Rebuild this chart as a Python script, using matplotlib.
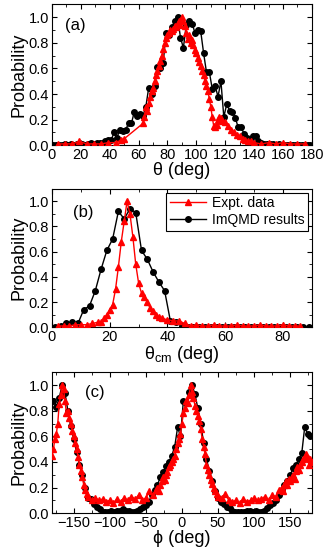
import numpy as np, matplotlib
matplotlib.use("Agg")
import matplotlib.pyplot as plt
from matplotlib.ticker import MultipleLocator

plt.rcParams.update({
    "font.family":["Liberation Sans","DejaVu Sans"],"font.size":10,
    "mathtext.fontset":"custom","mathtext.rm":"Liberation Sans",
    "xtick.direction":"in","ytick.direction":"in",
    "xtick.top":True,"ytick.right":True,
    "xtick.major.size":3.5,"ytick.major.size":3.5,
    "xtick.minor.size":2,"ytick.minor.size":2,
    "xtick.minor.visible":True,"ytick.minor.visible":True,
    "axes.linewidth":0.8,
})

# ── panel (a): theta ─────────────────────────────────
theta_sim_x=np.arange(1,180,2)
theta_sim_y=[0.0,0.0,0.0,0.0,0.01,0.0,0.01,0.0,0.01,0.01,
    0.01,0.0,0.01,0.02,0.01,0.02,0.02,0.02,0.03,0.04,
    0.04,0.10,0.06,0.12,0.11,0.12,0.17,0.17,0.26,0.23,
    0.24,0.23,0.30,0.45,0.40,0.46,0.61,0.60,0.64,0.88,
    0.86,0.92,0.97,1.00,0.84,0.76,0.94,0.97,0.95,0.88,
    0.90,0.89,0.72,0.57,0.57,0.44,0.46,0.38,0.50,0.22,
    0.32,0.27,0.26,0.21,0.14,0.14,0.09,0.06,0.05,0.07,
    0.07,0.03,0.02,0.01,0.01,0.01,0.01,0.0,0.01,0.0,
    0.0,0.0,0.0,0.0,0.0,0.0,0.0,0.0,0.0,0.0]
theta_exp_x=[4,9,14,19,24,29,34,39,44,48,50,63,
    64,65,66,67,68,69,70,71,72,73,74,75,76,77,78,79,80,81,82,83,84,85,86,87,88,89,
    90,91,92,93,94,95,96,97,98,99,100,101,102,103,104,105,106,107,108,109,110,111,
    112,113,114,115,116,117,118,120,122,124,126,128,130,132,134,136,138,140,
    145,150,155,160,165,170,175]
theta_exp_y=[0.01,0.01,0.01,0.03,0.01,0.01,0.01,0.02,0.02,0.04,0.05,0.17,
    0.22,0.30,0.27,0.33,0.38,0.42,0.45,0.50,0.55,0.58,0.62,0.66,0.70,0.75,0.80,0.84,
    0.86,0.88,0.90,0.89,0.91,0.93,0.92,0.95,0.97,0.94,
    1.00,0.97,0.93,0.88,0.83,0.86,0.80,0.82,0.78,0.74,0.72,0.68,0.65,0.62,0.58,0.55,
    0.50,0.46,0.42,0.36,0.30,0.22,
    0.15,0.14,0.16,0.20,0.22,0.21,0.19,0.18,0.15,0.12,0.10,0.08,0.07,0.05,0.04,0.03,
    0.03,0.02,0.01,0.02,0.01,0.02,0.01,0.01,0.01]

# ── panel (b): theta_cm ──────────────────────────────
thcm_sim_x=np.arange(1,90,2)
thcm_sim_y=[0.0,0.01,0.03,0.04,0.03,0.14,0.17,0.29,0.46,0.61,
    0.70,0.92,0.86,0.94,0.91,0.61,0.54,0.44,0.36,0.29,
    0.05,0.04,0.01,0.0,0.0,0.0,0.0,0.0,0.0,0.0,
    0.0,0.0,0.0,0.0,0.0,0.0,0.0,0.0,0.0,0.0,
    0.0,0.0,0.0,0.0,0.0]
thcm_exp_x=[2,4,6,8,10,12,14,16,17,18,19,20,21,22,23,24,25,26,27,28,29,30,31,32,33,
    34,35,36,37,38,40,42,44,46,48,50,52,54,56,58,60,62,64,66,68,70,72,74,76,78,
    80,82,84,86]
thcm_exp_y=[0.01,0.01,0.01,0.02,0.02,0.02,0.03,0.04,0.04,0.07,0.10,0.14,0.18,0.30,
    0.48,0.68,0.84,1.00,0.90,0.72,0.50,0.35,0.27,0.24,0.20,0.15,0.13,0.10,0.08,0.07,
    0.06,0.05,0.05,0.03,0.01,0.02,0.01,0.01,0.02,0.01,0.01,0.01,0.02,0.01,0.01,
    0.01,0.02,0.01,0.01,0.01,0.02,0.01,0.01,0.01]

# ── panel (c): phi ───────────────────────────────────
phi_sim_x=np.arange(-178,180,4)
phi_sim_y=[0.88,0.83,0.90,1.00,0.94,0.80,0.68,0.58,0.48,0.38,
    0.30,0.20,0.12,0.11,0.07,0.05,0.03,0.01,0.01,0.01,
    0.02,0.01,0.02,0.02,0.03,0.02,0.02,0.01,0.01,0.02,
    0.03,0.05,0.06,0.09,0.14,0.18,0.22,0.28,0.32,0.37,
    0.40,0.45,0.52,0.67,0.60,0.88,0.86,0.95,1.00,0.93,
    0.82,0.70,0.55,0.42,0.33,0.25,0.17,0.12,0.09,0.07,
    0.05,0.04,0.02,0.01,0.01,0.01,0.01,0.02,0.02,0.01,
    0.02,0.01,0.01,0.02,0.04,0.06,0.08,0.10,0.14,0.18,
    0.22,0.25,0.30,0.35,0.38,0.42,0.47,0.67,0.62,0.60]
phi_exp_x=[-180,-178,-176,-174,-172,-170,-168,-166,-164,-162,-160,-158,-156,-154,
    -152,-150,-148,-146,-144,-142,-140,-138,-136,-134,-132,-130,
    -125,-120,-115,-110,-105,-100,-95,-90,-85,-80,-75,-70,-65,-60,-55,-50,-45,-40,
    -36,-34,-32,-30,-28,-26,-24,-22,-20,-18,-16,-14,-12,-10,-8,-6,-4,-2,0,2,4,6,8,
    10,12,14,16,18,20,22,24,26,28,30,32,34,36,38,40,42,44,46,48,50,
    55,60,65,70,75,80,85,90,95,100,105,110,115,120,125,130,135,
    138,140,142,144,146,148,150,152,154,156,158,160,162,164,166,168,170,172,174,
    176,178,180]
phi_exp_y=[0.45,0.50,0.58,0.62,0.70,0.85,0.92,1.00,0.97,0.88,0.78,0.80,0.74,0.70,
    0.64,0.60,0.55,0.50,0.44,0.38,0.33,0.28,0.22,0.18,0.15,0.13,
    0.10,0.12,0.10,0.11,0.09,0.10,0.08,0.11,0.09,0.12,0.10,0.13,0.11,0.14,0.10,0.12,
    0.17,0.14,
    0.18,0.20,0.17,0.22,0.25,0.28,0.26,0.30,0.32,0.36,0.38,0.40,0.42,0.45,0.50,0.55,
    0.58,0.62,0.70,0.78,0.82,0.88,0.86,
    0.92,1.00,0.95,0.90,0.84,0.80,0.76,0.72,0.66,0.58,0.52,0.46,0.38,0.34,0.30,0.26,
    0.23,0.20,0.17,0.15,0.13,
    0.12,0.15,0.10,0.09,0.10,0.08,0.11,0.09,0.10,0.12,0.10,0.11,0.13,0.10,0.14,0.13,
    0.18,
    0.20,0.17,0.22,0.25,0.22,0.27,0.25,0.28,0.30,0.27,0.33,0.36,0.34,0.38,0.40,0.42,
    0.44,0.46,0.43,0.38,0.42,0.40]

RED="#ff0000"
fig=plt.figure(figsize=(3.29,5.50),dpi=100)
ax_a=fig.add_axes([0.158,0.736,0.79,0.256])
ax_b=fig.add_axes([0.158,0.405,0.79,0.252])
ax_c=fig.add_axes([0.158,0.067,0.79,0.256])

def draw(ax,ex,ey,sx,sy):
    ax.plot(ex,ey,"-^",color=RED,lw=1,ms=5,mec=RED,label="Expt. data",zorder=3)
    ax.plot(sx,sy,"-o",color="black",lw=1,ms=4,label="ImQMD results",zorder=2)
    ax.set_ylim(0,1.1)
    ax.yaxis.set_major_locator(MultipleLocator(0.2))
    ax.yaxis.set_minor_locator(MultipleLocator(0.1))
    ax.set_ylabel("Probability",fontsize=13,labelpad=1)
    ax.tick_params(labelsize=10.5,pad=2)

draw(ax_a,theta_exp_x,theta_exp_y,theta_sim_x,theta_sim_y)
ax_a.set_xlim(0,180)
ax_a.xaxis.set_major_locator(MultipleLocator(20))
ax_a.xaxis.set_minor_locator(MultipleLocator(10))
ax_a.set_xlabel("θ (deg)",fontsize=13,labelpad=0)
ax_a.text(0.09,0.85,"(a)",transform=ax_a.transAxes,ha="center",va="center",fontsize=12)

draw(ax_b,thcm_exp_x,thcm_exp_y,thcm_sim_x,thcm_sim_y)
ax_b.set_xlim(0,90)
ax_b.xaxis.set_major_locator(MultipleLocator(20))
ax_b.xaxis.set_minor_locator(MultipleLocator(10))
ax_b.set_xlabel(r"θ$_{\mathrm{cm}}$ (deg)",fontsize=13,labelpad=0)
ax_b.text(0.12,0.83,"(b)",transform=ax_b.transAxes,ha="center",va="center",fontsize=12)
leg=ax_b.legend(loc="upper right",fontsize=10,frameon=True,fancybox=False,
    edgecolor="black",framealpha=1,handlelength=2.6,borderpad=0.25,
    labelspacing=0.2,handletextpad=0.4,borderaxespad=0.3)
leg.get_frame().set_linewidth(0.8)

draw(ax_c,phi_exp_x,phi_exp_y,phi_sim_x,phi_sim_y)
ax_c.set_xlim(-180,180)
ax_c.xaxis.set_major_locator(MultipleLocator(50))
ax_c.xaxis.set_minor_locator(MultipleLocator(25))
ax_c.set_xlabel("ϕ (deg)",fontsize=13,labelpad=0)
ax_c.text(0.165,0.86,"(c)",transform=ax_c.transAxes,ha="center",va="center",fontsize=12)

fig.savefig("out.png",dpi=100,facecolor="white")
